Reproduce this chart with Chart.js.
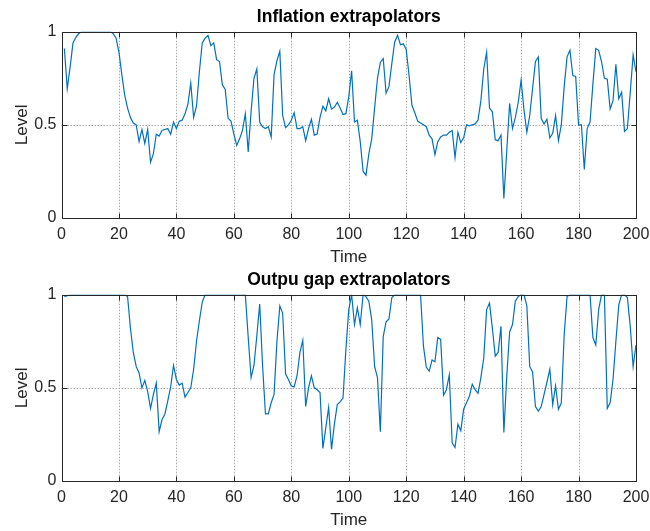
<!DOCTYPE html>
<html>
<head>
<meta charset="utf-8">
<script src="https://cdn.jsdelivr.net/npm/chart.js@4.4.1/dist/chart.umd.min.js"></script>
<style>
  html, body { margin: 0; padding: 0; background: #ffffff; }
  #wrap { position: relative; width: 650px; height: 531px; overflow: hidden; background: #ffffff; }
  #wrap canvas { position: absolute; left: 0; }
  #inflationChart { top: 0; }
  #outputGapChart { top: 263px; }
</style>
</head>
<body>
<div id="wrap">
  <canvas id="inflationChart" width="650" height="270"></canvas>
  <canvas id="outputGapChart" width="650" height="270"></canvas>
</div>
<script>
// Share of agents using the extrapolating rule, periods 1..200
const time = Array.from({ length: 200 }, (_, i) => i + 1);

const inflationExtrapolators = [
  0.91, 0.695, 0.81, 0.94, 0.97, 0.99, 1, 1, 1, 1,
  1, 1, 1, 1, 1, 1, 1, 0.99, 0.965, 0.89,
  0.77, 0.66, 0.59, 0.54, 0.51, 0.50, 0.41, 0.475, 0.40, 0.475,
  0.30, 0.345, 0.45, 0.44, 0.47, 0.475, 0.48, 0.45, 0.515, 0.48,
  0.52, 0.525, 0.56, 0.61, 0.725, 0.54, 0.60, 0.785, 0.94, 0.965,
  0.98, 0.925, 0.94, 0.85, 0.84, 0.715, 0.69, 0.535, 0.52, 0.45,
  0.39, 0.425, 0.47, 0.56, 0.355, 0.57, 0.75, 0.80, 0.515, 0.49,
  0.48, 0.49, 0.435, 0.77, 0.845, 0.895, 0.55, 0.485, 0.50, 0.525,
  0.565, 0.48, 0.48, 0.49, 0.415, 0.48, 0.53, 0.445, 0.45, 0.54,
  0.60, 0.575, 0.64, 0.585, 0.595, 0.62, 0.59, 0.555, 0.56, 0.65,
  0.79, 0.515, 0.525, 0.41, 0.25, 0.23, 0.345, 0.425, 0.59, 0.75,
  0.835, 0.855, 0.67, 0.705, 0.83, 0.945, 0.98, 0.93, 0.935, 0.905,
  0.765, 0.605, 0.565, 0.52, 0.51, 0.50, 0.49, 0.445, 0.425, 0.34,
  0.41, 0.435, 0.445, 0.445, 0.46, 0.47, 0.325, 0.46, 0.405, 0.43,
  0.50, 0.495, 0.50, 0.505, 0.525, 0.63, 0.80, 0.89, 0.59, 0.57,
  0.42, 0.415, 0.445, 0.105, 0.36, 0.615, 0.48, 0.54, 0.62, 0.74,
  0.58, 0.46, 0.55, 0.695, 0.84, 0.865, 0.535, 0.505, 0.53, 0.43,
  0.455, 0.55, 0.415, 0.50, 0.705, 0.865, 0.90, 0.765, 0.76, 0.50,
  0.50, 0.26, 0.48, 0.515, 0.72, 0.91, 0.90, 0.84, 0.75, 0.745,
  0.585, 0.63, 0.825, 0.64, 0.675, 0.465, 0.48, 0.675, 0.875, 0.785
];

const outputGapExtrapolators = [
  0.99, 0.995, 1, 1, 1, 1, 1, 1, 1, 1,
  1, 1, 1, 1, 1, 1, 1, 1, 1, 1,
  1, 1, 0.99, 0.82, 0.69, 0.615, 0.58, 0.50, 0.54, 0.48,
  0.39, 0.465, 0.525, 0.265, 0.33, 0.36, 0.43, 0.505, 0.62, 0.545,
  0.515, 0.525, 0.45, 0.475, 0.50, 0.60, 0.75, 0.86, 0.96, 1,
  1, 1, 1, 1, 1, 1, 1, 1, 1, 1,
  1, 1, 1, 1, 0.77, 0.555, 0.62, 0.78, 0.95, 0.62,
  0.36, 0.36, 0.42, 0.465, 0.75, 0.94, 0.90, 0.575, 0.545, 0.51,
  0.505, 0.565, 0.69, 0.755, 0.40, 0.50, 0.565, 0.50, 0.49, 0.475,
  0.175, 0.285, 0.395, 0.17, 0.305, 0.41, 0.425, 0.445, 0.705, 0.92,
  1, 0.84, 0.93, 0.84, 1, 0.99, 0.965, 0.865, 0.615, 0.555,
  0.265, 0.775, 0.855, 0.87, 0.985, 1, 1, 1, 1, 1,
  1, 1, 1, 1, 1, 0.725, 0.61, 0.59, 0.65, 0.64,
  0.77, 0.76, 0.46, 0.49, 0.57, 0.205, 0.18, 0.305, 0.27, 0.385,
  0.42, 0.455, 0.52, 0.49, 0.47, 0.555, 0.66, 0.92, 0.955, 0.82,
  0.67, 0.69, 0.83, 0.26, 0.56, 0.80, 0.84, 0.965, 0.99, 1,
  1, 0.94, 0.615, 0.585, 0.40, 0.375, 0.40, 0.465, 0.53, 0.60,
  0.41, 0.51, 0.385, 0.42, 0.785, 0.99, 1, 1, 1, 1,
  1, 1, 1, 1, 0.77, 0.73, 0.92, 1, 1, 0.39,
  0.42, 0.545, 0.75, 0.945, 1, 1, 0.985, 0.83, 0.615, 0.73
];

const xTicks = [0, 20, 40, 60, 80, 100, 120, 140, 160, 180, 200];
const yTicks = [0, 0.5, 1];

const FONT = '"Liberation Sans", Arial, Helvetica, sans-serif';
const AXIS_COLOR = '#262626';
const LINE_COLOR = '#0072BD';

// Dotted grid, boxed axes and inward tick marks in the classic plotting style
const boxedAxes = {
  id: 'boxedAxes',
  beforeDatasetsDraw(chart) {
    const { ctx, chartArea: a, scales: { x, y } } = chart;
    ctx.save();
    ctx.strokeStyle = '#aaaaaa';
    ctx.lineWidth = 1;
    ctx.setLineDash([1.5, 1.5]);
    ctx.beginPath();
    xTicks.forEach(v => {
      if (v <= x.min || v >= x.max) return;
      const px = Math.round(x.getPixelForValue(v)) + 0.5;
      ctx.moveTo(px, a.top);
      ctx.lineTo(px, a.bottom);
    });
    yTicks.forEach(v => {
      if (v <= y.min || v >= y.max) return;
      const py = Math.round(y.getPixelForValue(v)) + 0.5;
      ctx.moveTo(a.left, py);
      ctx.lineTo(a.right, py);
    });
    ctx.stroke();
    ctx.restore();
  },
  afterDatasetsDraw(chart) {
    const { ctx, chartArea: a, scales: { x, y } } = chart;
    const L = Math.round(a.left) + 0.5, R = Math.round(a.right) + 0.5;
    const T = Math.round(a.top) + 0.5, B = Math.round(a.bottom) + 0.5;
    const tl = 5;
    ctx.save();
    ctx.strokeStyle = AXIS_COLOR;
    ctx.lineWidth = 1;
    ctx.setLineDash([]);
    ctx.beginPath();
    ctx.rect(L, T, R - L, B - T);
    xTicks.forEach(v => {
      const px = Math.round(x.getPixelForValue(v)) + 0.5;
      ctx.moveTo(px, B); ctx.lineTo(px, B - tl);
      ctx.moveTo(px, T); ctx.lineTo(px, T + tl);
    });
    yTicks.forEach(v => {
      const py = Math.round(y.getPixelForValue(v)) + 0.5;
      ctx.moveTo(L, py); ctx.lineTo(L + tl, py);
      ctx.moveTo(R, py); ctx.lineTo(R - tl, py);
    });
    ctx.stroke();
    ctx.restore();
  }
};

function makeChart(canvasId, titleText, values) {
  return new Chart(document.getElementById(canvasId), {
    type: 'line',
    data: {
      datasets: [{
        data: time.map((t, i) => ({ x: t, y: values[i] })),
        borderColor: LINE_COLOR,
        borderWidth: 1.2,
        pointRadius: 0,
        tension: 0,
        fill: false
      }]
    },
    options: {
      responsive: false,
      animation: false,
      events: [],
      layout: { padding: { left: 0, right: 14, top: 0, bottom: 0 } },
      plugins: {
        legend: { display: false },
        tooltip: { enabled: false },
        title: {
          display: true,
          text: titleText,
          fullSize: false,
          color: '#000000',
          font: { family: FONT, size: 17.5, weight: 'bold', lineHeight: 1.2 },
          padding: { top: 7, bottom: 3.7 }
        }
      },
      scales: {
        x: {
          type: 'linear',
          min: 0,
          max: 200,
          afterBuildTicks: s => { s.ticks = xTicks.map(v => ({ value: v })); },
          afterFit: s => { s.height = 52; s.paddingLeft = 0; s.paddingRight = 0; },
          grid: { display: false, drawTicks: false },
          border: { display: false },
          ticks: {
            color: AXIS_COLOR,
            padding: 7,
            maxRotation: 0,
            callback: v => String(v),
            font: { family: FONT, size: 16 }
          },
          title: {
            display: true,
            text: 'Time',
            color: AXIS_COLOR,
            font: { family: FONT, size: 17, lineHeight: 1.2 },
            padding: { top: 0, bottom: 2 }
          }
        },
        y: {
          type: 'linear',
          min: 0,
          max: 1,
          afterBuildTicks: s => { s.ticks = yTicks.map(v => ({ value: v })); },
          afterFit: s => { s.width = 61.5; },
          grid: { display: false, drawTicks: false },
          border: { display: false },
          ticks: {
            color: AXIS_COLOR,
            padding: 5,
            callback: v => String(v),
            font: { family: FONT, size: 16 }
          },
          title: {
            display: true,
            text: 'Level',
            color: AXIS_COLOR,
            font: { family: FONT, size: 17, lineHeight: 1.2 },
            padding: { top: 12, bottom: 0 }
          }
        }
      }
    },
    plugins: [boxedAxes]
  });
}

makeChart('inflationChart', 'Inflation extrapolators', inflationExtrapolators);
makeChart('outputGapChart', 'Outpu gap extrapolators', outputGapExtrapolators);
</script>
</body>
</html>
